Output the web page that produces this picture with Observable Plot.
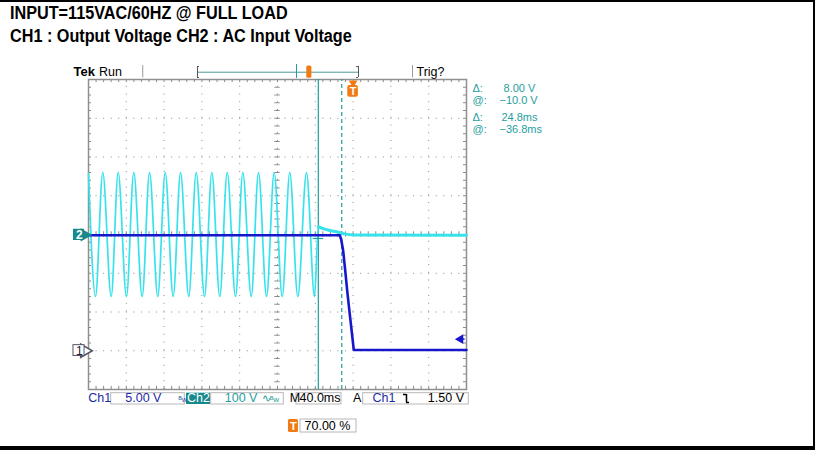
<!DOCTYPE html>
<html>
<head>
<meta charset="utf-8">
<script src="https://cdn.jsdelivr.net/npm/d3@7"></script>
<script src="https://cdn.jsdelivr.net/npm/@observablehq/plot@0.6"></script>
<style>
  html, body { margin: 0; padding: 0; background: #fff; }
  #page { position: relative; width: 815px; height: 450px; overflow: hidden; background: #fff; }
  .title { position: absolute; left: 10px; font-family: "Liberation Sans", Arial, sans-serif; font-weight: bold;
           font-size: 18px; line-height: 1; color: #000; white-space: nowrap; transform: scaleX(0.9); transform-origin: 0 0; }
  #t1 { top: 3.5px; }
  #t2 { top: 27px; }
  #chart { position: absolute; left: 0; top: 50px; }
  #border { position: absolute; left: 0; top: 0; width: 815px; height: 450px; box-sizing: border-box;
            border-top: 2px solid #000; border-right: 2px solid #000; border-bottom: 4px solid #000; pointer-events: none; }
</style>
</head>
<body>
<div id="page">
  <div class="title" id="t1">INPUT=115VAC/60HZ @ FULL LOAD</div>
  <div class="title" id="t2">CH1 : Output Voltage CH2 : AC Input Voltage</div>
  <div id="chart"></div>
  <div id="border"></div>
</div>
<script>
// ---------------- scope settings ----------------
const timePerDiv = 40;          // ms / div  (M 40.0ms)
const triggerPosition = 0.70;   // 70.00 %
const ch1VoltsPerDiv = 5;       // Ch1 5.00 V
const ch1OffsetDiv = -3;        // ground marker "1"
const ch2VoltsPerDiv = 100;     // Ch2 100 V
const ch2OffsetDiv = 0;         // ground marker "2"
const triggerLevel = 1.5;       // Ch1 falling 1.50 V
const cursorTimes = [-36.8, -12.0];   // @ -36.8ms, delta 24.8ms

// ---------------- CH2 : AC input voltage (ms, V) ----------------
const ch2Time = [-280, -272.6, -264.9, -256.0, -248.6, -239.8, -232.1, -223.2, -215.4, -206.7,
                 -198.8, -190.4, -182.6, -173.9, -166.0, -157.2, -149.5, -141.1, -133.2, -124.4,
                 -116.7, -107.8, -100.1, -91.6, -83.5, -75.0, -67.0, -58.5, -49.3, -40.8,
                 -36.8, -30, -22, -16, -8, 0, 120];
const ch2Volt = [158, -160, 160, -160, 160, -160, 160, -160, 160, -160,
                 160, -160, 160, -160, 160, -160, 160, -160, 160, -160,
                 160, -160, 160, -160, 160, -160, 160, -160, 160, -160,
                 20, 14, 9, 6, 1, -1, -2];

// ---------------- CH1 : output voltage (ms, V) ----------------
const ch1Time = [-280, -14.1, -12.5, -10.5, -8.3, -6.2, -4.5, -2.75, -1.0, 0.7, 120];
const ch1Volt = [14.9, 14.9, 14.3, 12.9, 10.3, 7.7, 5.8, 3.9, 2.0, 0.1, 0.1];

// ---------------- readouts / labels ----------------
const readoutLabels = ["\u0394:", "@:", "\u0394:", "@:"];
const readoutValues = ["8.00 V", "\u221210.0 V", "24.8ms", "\u221236.8ms"];
const ch1Scale = "5.00 V", ch2Scale = "100 V", timeBase = "40.0ms", trigText = "1.50 V", trigPosText = "70.00 %";

// ---------------- derived ----------------
const tMin = -triggerPosition * 10 * timePerDiv;
const tMax = tMin + 10 * timePerDiv;
const tCenter = tMin + 5 * timePerDiv;
const ch1Data = ch1Time.map((t, i) => ({t, d: ch1Volt[i] / ch1VoltsPerDiv + ch1OffsetDiv}));
const ch2Data = ch2Time.map((t, i) => ({t, d: ch2Volt[i] / ch2VoltsPerDiv + ch2OffsetDiv}));
const ch2Tail = ch2Data.filter(p => p.t >= cursorTimes[0]);
const trigDiv = triggerLevel / ch1VoltsPerDiv + ch1OffsetDiv;

const minorX = d3.range(0, 51).map(i => tMin + i * timePerDiv / 5);
const minorY = d3.range(0, 41).map(i => -4 + i * 0.2);
const majorX = d3.range(1, 10).map(i => tMin + i * timePerDiv);
const majorY = d3.range(-3, 4);

const teal = "#1f9e9e", tealBg = "#17898c", blueTxt = "#1d2aa8", trace1 = "#1616cc", trace2 = "#38e2ec",
      orange = "#f27a12", grid = "#8a8a8a", boxStroke = "#b8b8b8";
const sf = "Liberation Sans, Arial, sans-serif";

const txt = (data, o) => Plot.text(data, {x: "t", y: "d", text: "s", fontFamily: sf, fontSize: 12.5, ...o});
const box = (data, o) => Plot.rect(data, {x1: "t1", x2: "t2", y1: "d1", y2: "d2", ...o});

const yBar = -4.232, yBox1 = -4.095, yBox2 = -4.387;
const readoutRows = [3.78, 3.47, 3.01, 2.70];

const plot = Plot.plot({
  width: 815, height: 400,
  marginLeft: 88, marginRight: 349, marginTop: 29, marginBottom: 61,
  x: {domain: [tMin, tMax], axis: null},
  y: {domain: [-4, 4], axis: null},
  style: {background: "transparent", overflow: "visible"},
  marks: [
    // graticule
    Plot.ruleY(majorY, {x1: tMin, x2: tMax, stroke: grid, strokeDasharray: "1 6.56"}),
    Plot.ruleX(majorX, {y1: -4, y2: 4, stroke: grid, strokeDasharray: "1 6.75"}),
    Plot.ruleX(minorX, {y1: -0.07, y2: 0.07, stroke: grid}),
    Plot.ruleY(minorY, {x1: tCenter - 2.8, x2: tCenter + 2.8, stroke: grid}),
    Plot.ruleX(minorX, {y1: 4, y2: 3.92, stroke: grid}),
    Plot.ruleX(minorX, {y1: -4, y2: -3.92, stroke: grid}),
    Plot.ruleY(minorY, {x1: tMin, x2: tMin + 3.2, stroke: grid}),
    Plot.ruleY(minorY, {x1: tMax, x2: tMax - 3.2, stroke: grid}),
    Plot.frame({stroke: "#8f8f8f", strokeWidth: 1.5}),

    // cursors
    Plot.ruleX([cursorTimes[0]], {y1: -4, y2: 4, stroke: teal, strokeWidth: 1.2}),
    Plot.ruleX([cursorTimes[1]], {y1: -4, y2: 4, stroke: teal, strokeWidth: 1.2, strokeDasharray: "4 3"}),

    // traces
    Plot.line(ch2Data, {x: "t", y: "d", curve: "monotone-x", stroke: trace2, strokeWidth: 1.7}),
    Plot.line(ch2Tail, {x: "t", y: "d", curve: "monotone-x", stroke: trace2, strokeWidth: 3}),
    Plot.line(ch1Data, {x: "t", y: "d", stroke: trace1, strokeWidth: 2.6}),
    Plot.ruleY([-0.103], {x1: cursorTimes[0] - 5.5, x2: cursorTimes[0] + 5.5, stroke: teal, strokeWidth: 1.2}),

    // trigger position marker (T)
    Plot.dot([{t: 0, d: 3.91}], {x: "t", y: "d", symbol: "triangle", rotate: 180, r: 3.2, fill: orange}),
    box([{t1: -5.6, t2: 5.6, d1: 3.543, d2: 3.845}], {fill: orange, rx: 2}),
    txt([{t: 0, d: 3.69, s: "T"}], {fill: "#fff", fontWeight: "bold", fontSize: 11}),

    // top status bar
    txt([{t: -295.9, d: 4.206, s: "Tek"}], {textAnchor: "start", fontWeight: "bold", fontSize: 13, fill: "#000"}),
    txt([{t: -268.9, d: 4.206, s: "Run"}, {t: 67.1, d: 4.206, s: "Trig?"}], {textAnchor: "start", fill: "#000"}),
    Plot.ruleX([-222.6, 62.9], {y1: 4.044, y2: 4.361, stroke: "#999"}),
    Plot.ruleY([4.188], {x1: -164.66, x2: 5.71, stroke: "#4f9a9a"}),
    Plot.ruleX([-164.66, 5.71], {y1: 4.052, y2: 4.335, stroke: "#555"}),
    Plot.ruleY([4.052, 4.335], {x1: -164.66, x2: -162.6, stroke: "#555"}),
    Plot.ruleY([4.052, 4.335], {x1: 5.71, x2: 3.65, stroke: "#555"}),
    Plot.ruleX([-59.9], {y1: 4.026, y2: 4.387, stroke: teal}),
    box([{t1: -49.0, t2: -43.6, d1: 4.035, d2: 4.35}], {fill: orange, rx: 1.5}),

    // readouts
    txt(readoutLabels.map((s, i) => ({t: 126.35, d: readoutRows[i], s})),
        {textAnchor: "start", fill: teal, fontSize: 11}),
    txt(readoutValues.map((s, i) => ({t: [159.2, 154.9, 157.0, 154.9][i], d: readoutRows[i], s})),
        {textAnchor: "start", fill: teal, fontSize: 11}),

    // channel ground markers
    Plot.dot([{t: -284.2, d: -0.01}], {x: "t", y: "d", symbol: "triangle", rotate: 90, r: 5, fill: tealBg}),
    box([{t1: -295.9, t2: -284.2, d1: -0.155, d2: 0.135}], {fill: tealBg}),
    txt([{t: -289.8, d: -0.01, s: "2"}], {fill: "#fff", fontWeight: "bold", fontSize: 12}),
    Plot.dot([{t: -284.2, d: -3}], {x: "t", y: "d", symbol: "triangle", rotate: 90, r: 5, fill: "#fff", stroke: "#556"}),
    box([{t1: -295.9, t2: -284.2, d1: -3.135, d2: -2.855}], {fill: "#fff", stroke: "#556"}),
    txt([{t: -289.8, d: -3, s: "1"}], {fill: "#223", fontSize: 12}),

    // ch1 trigger level arrow
    Plot.ruleY([trigDiv], {x1: 114.5, x2: 118.5, stroke: trace1, strokeWidth: 1.5}),
    Plot.dot([{t: 113.6, d: trigDiv}], {x: "t", y: "d", symbol: "triangle", rotate: -90, r: 3.6, fill: trace1}),

    // bottom status bar
    box([{t1: -255.98, t2: -178.1, d1: yBox2, d2: yBox1},
         {t1: -150.16, t2: -73.33, d1: yBox2, d2: yBox1},
         {t1: -59.89, t2: -12.28, d1: yBox2, d2: yBox1},
         {t1: 10.69, t2: 122.4, d1: yBox2, d2: yBox1}], {fill: "#fff", stroke: boxStroke}),
    box([{t1: -176.3, t2: -150.9, d1: yBox2, d2: yBox1}], {fill: tealBg}),
    txt([{t: -280.3, d: yBar, s: "Ch1"}, {t: 20.5, d: yBar, s: "Ch1"}], {textAnchor: "start", fill: blueTxt}),
    txt([{t: -202.8, d: yBar, s: ch1Scale}], {textAnchor: "end", fill: blueTxt}),
    txt([{t: -184.8, d: yBar - 0.03, s: "\u1D2Ew"}], {textAnchor: "start", fill: "#3a5aa0", fontSize: 8}),
    txt([{t: -163.6, d: yBar, s: "Ch2"}], {fill: "#fff"}),
    txt([{t: -101.2, d: yBar, s: ch2Scale}], {textAnchor: "end", fill: teal}),
    txt([{t: -96.9, d: yBar, s: "\u223F"}], {textAnchor: "start", fill: teal, fontSize: 11}),
    txt([{t: -88.0, d: yBar - 0.03, s: "\u1D2Ew"}], {textAnchor: "start", fill: teal, fontSize: 8}),
    txt([{t: -67.0, d: yBar, s: "M"}], {textAnchor: "start", fill: "#000"}),
    txt([{t: -35.0, d: yBar, s: timeBase}], {fill: "#000"}),
    txt([{t: 4.3, d: yBar, s: "A"}], {fill: "#000"}),
    txt([{t: 117.35, d: yBar, s: trigText}], {textAnchor: "end", fill: "#000"}),
    // falling-edge slope icon
    Plot.ruleY([-4.129], {x1: 53.3, x2: 56.5, stroke: "#000", strokeWidth: 1.5}),
    Plot.ruleX([56.5], {y1: -4.129, y2: -4.335, stroke: "#000", strokeWidth: 1.5}),
    Plot.ruleY([-4.335], {x1: 56.5, x2: 59.7, stroke: "#000", strokeWidth: 1.5}),

    // trigger position readout
    box([{t1: -68.4, t2: -57.8, d1: -5.11, d2: -4.774}], {fill: orange, rx: 1.5}),
    txt([{t: -63.1, d: -4.942, s: "T"}], {fill: "#fff", fontWeight: "bold", fontSize: 11}),
    box([{t1: -55.66, t2: 3.6, d1: -5.11, d2: -4.774}], {fill: "#fff", stroke: boxStroke}),
    txt([{t: -51.4, d: -4.942, s: trigPosText}], {textAnchor: "start", fill: "#000"})
  ]
});
document.getElementById("chart").appendChild(plot);
</script>
</body>
</html>
